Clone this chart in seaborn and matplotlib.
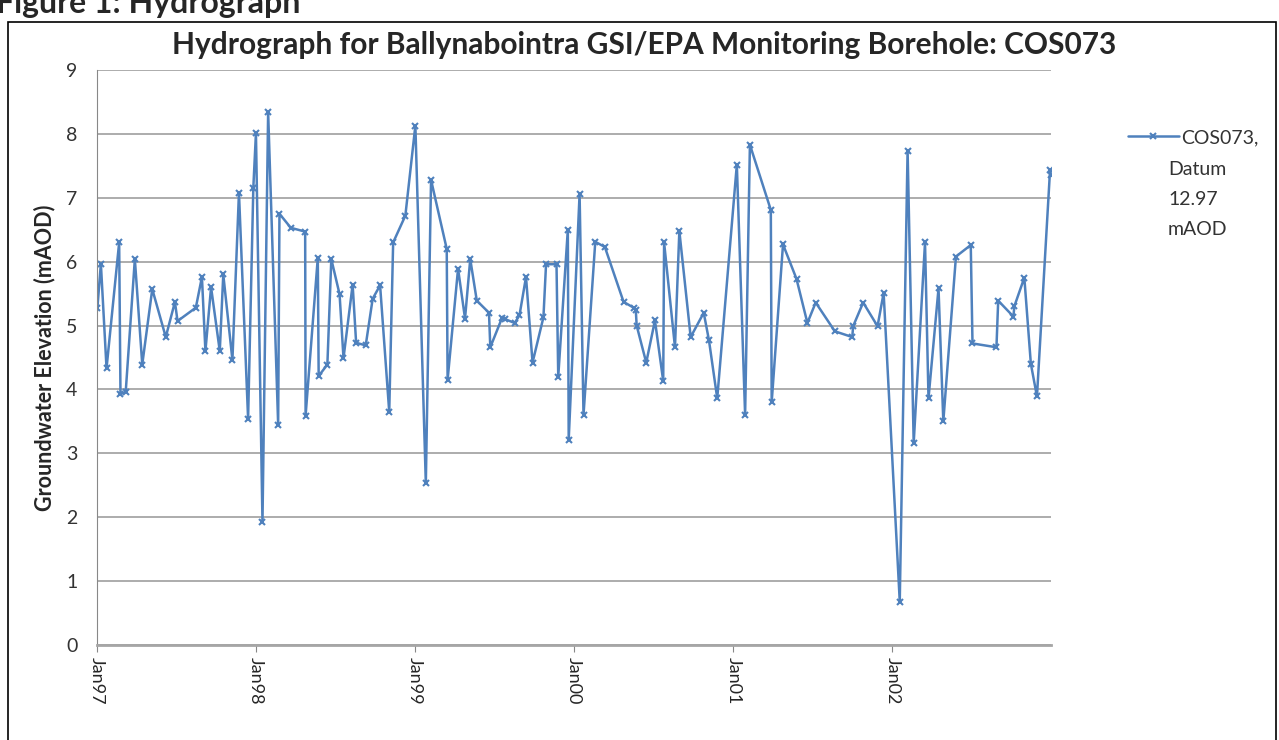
import pandas as pd
import matplotlib
matplotlib.use("Agg")
import matplotlib.pyplot as plt
import matplotlib.dates as mdates
import seaborn as sns
from matplotlib.patches import Rectangle

# groundwater level readings
dates = [
    "1997-01-02", "1997-01-10", "1997-01-23", "1997-02-21", "1997-02-24", "1997-03-08",
    "1997-03-29", "1997-04-15", "1997-05-08", "1997-06-08", "1997-06-29", "1997-07-05",
    "1997-08-16", "1997-08-30", "1997-09-07", "1997-09-20", "1997-10-10", "1997-10-18",
    "1997-11-08", "1997-11-23", "1997-12-14", "1997-12-26", "1998-01-01", "1998-01-16",
    "1998-01-29", "1998-02-21", "1998-02-24", "1998-03-22", "1998-04-24", "1998-04-25",
    "1998-05-23", "1998-05-25", "1998-06-14", "1998-06-23", "1998-07-12", "1998-07-21",
    "1998-08-11", "1998-08-19", "1998-09-10", "1998-09-26", "1998-10-13", "1998-11-03",
    "1998-11-12", "1998-12-10", "1999-01-02", "1999-01-26", "1999-02-07", "1999-03-15",
    "1999-03-17", "1999-04-10", "1999-04-26", "1999-05-08", "1999-05-23", "1999-06-20",
    "1999-06-23", "1999-07-20", "1999-07-27", "1999-08-18", "1999-08-29", "1999-09-13",
    "1999-09-28", "1999-10-23", "1999-10-29", "1999-11-22", "1999-11-26", "1999-12-18",
    "1999-12-20", "2000-01-14", "2000-01-23", "2000-02-19", "2000-03-12", "2000-04-24",
    "2000-05-17", "2000-05-22", "2000-05-24", "2000-06-15", "2000-07-05", "2000-07-24",
    "2000-07-26", "2000-08-20", "2000-08-30", "2000-09-25", "2000-10-25", "2000-11-06",
    "2000-11-25", "2001-01-09", "2001-01-28", "2001-02-08", "2001-03-28", "2001-03-30",
    "2001-04-25", "2001-05-26", "2001-06-20", "2001-07-09", "2001-08-22", "2001-10-01",
    "2001-10-03", "2001-10-26", "2001-11-28", "2001-12-12", "2002-01-18", "2002-02-05",
    "2002-02-19", "2002-03-17", "2002-03-25", "2002-04-17", "2002-04-28", "2002-05-27",
    "2002-06-30", "2002-07-04", "2002-08-28", "2002-09-01", "2002-10-06", "2002-10-08",
    "2002-10-31", "2002-11-15", "2002-11-29", "2002-12-29", "2002-12-31",
]
levels = [
    5.27, 5.97, 4.33, 6.30, 3.93, 3.96,
    6.04, 4.39, 5.57, 4.82, 5.37, 5.07,
    5.28, 5.76, 4.60, 5.60, 4.60, 5.80,
    4.46, 7.08, 3.54, 7.16, 8.01, 1.93,
    8.34, 3.45, 6.75, 6.53, 6.47, 3.59,
    6.06, 4.21, 4.39, 6.04, 5.49, 4.49,
    5.64, 4.73, 4.69, 5.42, 5.63, 3.65,
    6.30, 6.72, 8.13, 2.53, 7.28, 6.20,
    4.15, 5.89, 5.11, 6.04, 5.39, 5.20,
    4.66, 5.12, 5.10, 5.04, 5.16, 5.76,
    4.42, 5.13, 5.96, 5.96, 4.20, 6.50,
    3.21, 7.06, 3.60, 6.31, 6.23, 5.37,
    5.28, 5.25, 5.00, 4.42, 5.08, 4.13,
    6.30, 4.66, 6.48, 4.82, 5.20, 4.77,
    3.86, 7.52, 3.60, 7.83, 6.81, 3.80,
    6.27, 5.73, 5.04, 5.36, 4.91, 4.82,
    4.99, 5.36, 4.99, 5.51, 0.68, 7.74,
    3.16, 6.30, 3.86, 5.58, 3.50, 6.08,
    6.26, 4.72, 4.66, 5.39, 5.14, 5.30,
    5.75, 4.40, 3.89, 7.43, 7.35,
]
series_name = "COS073,"
series_note = "Datum\n12.97\nmAOD"
year_ticks = ["1997-01-01", "1998-01-01", "1999-01-01", "2000-01-01", "2001-01-01", "2002-01-01"]

df = pd.DataFrame({"date": pd.to_datetime(dates), "level": levels})

sns.set_style("white")
plt.rcParams["font.family"] = ["Lato", "DejaVu Sans"]

fig = plt.figure(figsize=(12.79, 7.40), dpi=100)
ax = fig.add_axes([0.0758, 0.1284, 0.7462, 0.7770])

line_color = "#4F81BD"
sns.lineplot(data=df, x="date", y="level", ax=ax, color=line_color, linewidth=1.8,
             marker="x", markersize=4, markeredgewidth=1.5, markeredgecolor=line_color,
             label=series_name, sort=False)

ax.set_xlim(pd.Timestamp("1997-01-01"), pd.Timestamp("2003-01-01"))
ax.set_ylim(0, 9)
ax.set_yticks(range(0, 10))
ax.set_xticks(pd.to_datetime(year_ticks))
ax.xaxis.set_major_formatter(mdates.DateFormatter("%b%y"))
ax.tick_params(axis="x", labelrotation=270, labelsize=13, length=5, color="#888888",
               direction="out", bottom=True, pad=4)
ax.tick_params(axis="y", labelsize=14, length=0, pad=14)
for lab in ax.get_yticklabels():
    lab.set_color("#333333")

ax.grid(axis="y", color="#A6A6A6", linewidth=1.3)
ax.grid(axis="x", visible=False)
ax.set_axisbelow(True)
for side in ["top", "right"]:
    ax.spines[side].set_visible(False)
ax.spines["left"].set_color("#888888")
ax.spines["bottom"].set_color("#A6A6A6")
ax.spines["bottom"].set_linewidth(2.0)

ax.set_xlabel("")
ax.set_ylabel("Groundwater Elevation (mAOD)", fontsize=15.5, fontweight="bold", labelpad=8)
fig.text(0.504, 0.939, "Hydrograph for Ballynabointra GSI/EPA Monitoring Borehole: COS073",
         fontsize=21.5, fontweight="bold", ha="center", va="center")

leg = ax.legend(loc="upper left", bbox_to_anchor=(1.062, 0.928), frameon=False, fontsize=14,
                handlelength=2.6, handletextpad=0.15)
for txt in leg.get_texts():
    txt.set_color("#333333")
fig.text(0.9132, 0.783, series_note, fontsize=14, color="#333333", ha="left", va="top",
         linespacing=1.95)

# page framing: clipped caption above and the chart border
fig.text(-0.003, 0.9824, "Figure 1: Hydrograph", fontsize=23, fontweight="bold",
         ha="left", va="baseline")
fig.patches.append(Rectangle((0.0063, -0.01), 0.9914, 0.98, transform=fig.transFigure,
                             fill=False, edgecolor="black", linewidth=1.2))

fig.savefig("out.png", dpi=100)
